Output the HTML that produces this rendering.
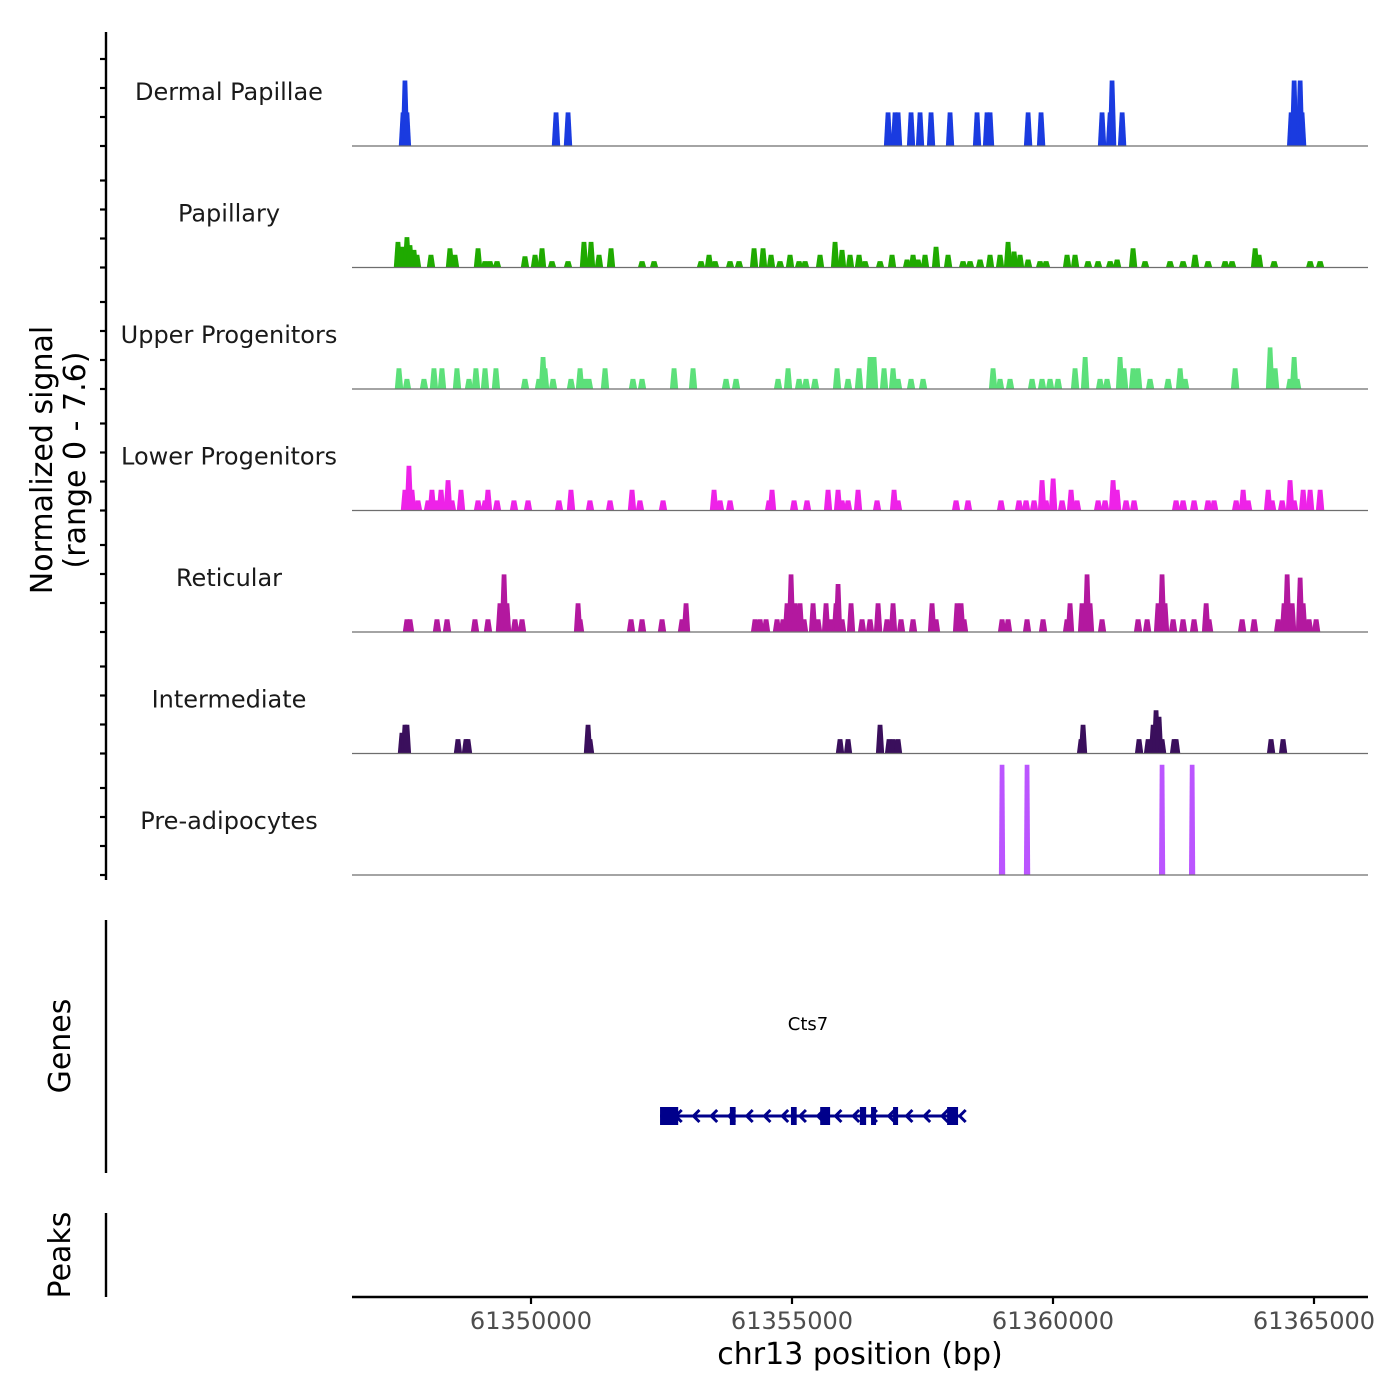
<!DOCTYPE html>
<html><head><meta charset="utf-8"><style>
body{margin:0;background:#fff}
svg{display:block;font-family:"DejaVu Sans","Liberation Sans",sans-serif}
</style></head><body>
<svg id="chart" width="1400" height="1400" viewBox="0 0 1400 1400">
<g id="tracks"></g>
<g id="axes"></g>
</svg>
<script>
// ---- data (genomic offsets in bp from 61350000, values in normalized signal) ----
const trackNames = ["Dermal Papillae","Papillary","Upper Progenitors","Lower Progenitors","Reticular","Intermediate","Pre-adipocytes"];
const trackColors = ["#1a3be0","#1faa00","#5ce07a","#ee22e8","#b3189f","#3a0f5c","#bb55ff"];
const dermalPos = [-2452,-2414,-2376,479,709,6840,6974,7032,7281,7453,7664,8028,8545,8737,8794,9523,9772,10940,11094,11132,11324,14562,14619,14734,14772];
const dermalVal = [2.1,4.1,2.1,2.1,2.1,2.1,2.1,2.1,2.1,2.1,2.1,2.1,2.1,2.1,2.1,2.1,2.1,2.1,2.1,4.1,2.1,2.1,4.1,4.1,2.1];
const papPos = [-2548,-2472,-2376,-2318,-2242,-2184,-1916,-1552,-1456,-1015,-881,-786,-651,-115,77,211,402,709,1015,1150,1303,1533,2127,2357,3257,3410,3525,3813,3985,4273,4445,4598,4771,4962,5135,5250,5537,5825,5959,6112,6284,6399,6687,6917,7204,7319,7415,7549,7760,7990,8277,8411,8603,8794,8986,9139,9254,9369,9523,9752,9867,10270,10423,10672,10864,11094,11228,11534,11764,12243,12492,12722,12971,13297,13431,13872,13948,14236,14926,15117];
const papVal = [1.6,1.3,1.9,1.4,1.1,0.8,0.8,1.2,0.8,1.2,0.4,0.4,0.4,0.7,0.8,1.2,0.4,0.4,1.6,1.6,0.8,1.2,0.4,0.4,0.4,0.8,0.4,0.4,0.4,1.2,1.2,0.8,0.4,0.8,0.4,0.4,0.8,1.6,1.1,0.8,0.8,0.4,0.4,0.8,0.5,0.8,0.5,0.8,1.3,0.8,0.4,0.4,0.5,0.8,0.8,1.6,1.0,0.8,0.5,0.4,0.4,0.8,0.8,0.4,0.4,0.4,0.5,1.2,0.4,0.4,0.4,0.8,0.4,0.4,0.4,1.2,0.8,0.4,0.4,0.4];
const upPos = [-2529,-2376,-2050,-1859,-1705,-1418,-1188,-1054,-881,-671,-115,153,230,268,422,766,939,1035,1111,1418,1954,2127,2740,3104,3736,3928,4733,4924,5135,5269,5441,5863,6074,6284,6495,6572,6763,6936,7032,7281,7511,8852,8986,9178,9599,9791,9944,10097,10423,10615,10902,11036,11285,11362,11534,11630,11860,12205,12435,12531,13489,14159,14255,14542,14619,14677];
const upVal = [1.3,0.63,0.63,1.3,1.3,1.3,0.63,1.3,1.3,1.3,0.63,0.63,2.0,1.3,0.63,0.63,1.3,0.63,0.63,1.3,0.63,0.63,1.3,1.3,0.63,0.63,0.63,1.3,0.63,0.63,0.63,1.3,0.63,1.3,2.0,2.0,1.3,1.3,0.63,0.63,0.63,1.3,0.63,0.63,0.63,0.63,0.63,0.63,1.3,2.0,0.63,0.63,2.0,1.3,1.3,1.3,0.63,0.63,1.3,0.63,1.3,2.6,1.3,0.63,2.0,0.63];
const lowPos = [-2414,-2338,-2280,-2165,-1973,-1897,-1820,-1724,-1590,-1514,-1341,-1015,-881,-824,-651,-326,-57,536,766,1130,1514,1935,2088,2529,3506,3621,3813,4560,4618,5039,5288,5691,5882,5959,6074,6265,6629,6955,7032,8143,8373,9005,9350,9484,9637,9791,9867,10002,10174,10346,10461,10864,10998,11151,11228,11400,11553,12358,12492,12703,12971,13086,13508,13642,13738,14121,14198,14389,14542,14619,14792,14926,15117];
const lowVal = [1.3,2.8,1.3,0.63,0.63,1.3,0.63,1.3,1.9,0.63,1.3,0.63,0.63,1.3,0.63,0.63,0.63,0.63,1.3,0.63,0.63,1.3,0.63,0.63,1.3,0.63,0.63,0.63,1.3,0.63,0.63,1.3,1.3,0.63,0.63,1.3,0.63,1.3,0.63,0.63,0.63,0.63,0.63,0.63,0.63,1.9,0.63,2.0,0.63,1.3,0.63,0.63,0.63,1.9,1.3,0.63,0.63,0.63,0.63,0.63,0.63,0.63,0.63,1.3,0.63,1.3,0.63,0.63,1.9,0.63,1.3,1.3,1.3];
const retPos = [-2376,-2318,-1801,-1609,-1073,-824,-594,-517,-460,-307,-172,901,939,1916,2127,2510,2893,2970,4292,4388,4503,4713,4828,4905,4982,5058,5154,5231,5403,5499,5652,5748,5844,5882,5959,6131,6342,6495,6649,6821,6936,7089,7319,7683,7760,8162,8239,8296,9024,9139,9503,9810,10270,10327,10557,10653,10710,10940,11630,11803,12013,12090,12147,12301,12492,12703,12933,12990,13623,13853,14313,14427,14485,14581,14734,14792,14906,15041];
const retVal = [0.8,0.8,0.8,0.8,0.8,0.8,1.8,3.6,1.8,0.8,0.8,1.8,0.8,0.8,0.8,0.8,0.8,1.8,0.8,0.8,0.8,0.8,0.8,1.8,3.6,1.8,1.8,0.8,1.8,0.8,1.8,0.8,1.8,3.0,0.8,1.8,0.8,0.8,1.8,0.8,1.8,0.8,0.8,1.8,0.8,1.8,1.8,0.8,0.8,0.8,0.8,0.8,0.8,1.8,1.8,3.6,1.8,0.8,0.8,0.8,1.8,3.6,1.8,0.8,0.8,0.8,1.8,0.8,0.8,0.8,0.8,1.8,3.6,1.8,3.4,1.8,0.8,0.8];
const intPos = [-2472,-2414,-2376,-1399,-1245,-1207,1092,1130,5920,6074,6687,6859,6936,7032,10538,10576,11649,11822,11918,11975,12032,12090,12320,12358,14178,14408];
const intVal = [1.3,1.8,1.8,0.9,0.9,0.9,1.8,0.9,0.9,0.9,1.8,0.9,0.9,0.9,0.9,1.8,0.9,0.9,1.8,2.7,2.3,0.9,0.9,0.9,0.9,0.9];
const prePos = [9024,9503,12090,12665];
const preVal = [6.9,6.9,6.9,6.9];
const xTicks = [61350000,61355000,61360000,61365000];
const geneSpan = [2472,8220];
const exonStarts = [2472,3810,4980,5540,6300,6514,6936,7971];
const exonEnds = [2820,3920,5090,5730,6420,6610,7032,8181];
const yMax = 7.6;

// ---- scales ----
const NS="http://www.w3.org/2000/svg";
const base = 61350000;
const X0=352, X1=1368;
function xs(off){ return 531 + off*261/5000; }
const trackH = 121.5;
function baseY(i){ return 146 + i*121.5; }
function ys(i,v){ return baseY(i) - v*(trackH/yMax); }
function mk(tag, attrs, parent){ const e=document.createElementNS(NS,tag); for(const k in attrs) e.setAttribute(k,attrs[k]); parent.appendChild(e); return e; }

const tracks=document.getElementById('tracks');
const axes=document.getElementById('axes');
const allPos=[dermalPos,papPos,upPos,lowPos,retPos,intPos,prePos];
const allVal=[dermalVal,papVal,upVal,lowVal,retVal,intVal,preVal];
const slugs=["dermal-papillae","papillary","upper-progenitors","lower-progenitors","reticular","intermediate","pre-adipocytes"];

for(let i=0;i<7;i++){
  const g=mk('g',{},tracks);
  
  
  const lab=mk('text',{x:229,y:baseY(i)-46,'text-anchor':'middle','font-size':24,fill:'#1a1a1a'},g);
  lab.textContent=trackNames[i];
  
  
  const P=allPos[i], V=allVal[i];
  for(let j=0;j<P.length;j++){
    const b=baseY(i), t=ys(i,V[j]);
    const hw = i===6 ? 60 : 80, tw = 45;
    const pts=[[xs(P[j]-hw),b],[xs(P[j]-tw),t],[xs(P[j]+tw),t],[xs(P[j]+hw),b]].map(p=>p[0].toFixed(1)+','+p[1].toFixed(1)).join(' ');
    const pk=mk('polygon',{points:pts,fill:trackColors[i]},g);
    
    
  }
  const bl=mk('line',{x1:X0,x2:X1,y1:baseY(i),y2:baseY(i),stroke:'#6e6e6e','stroke-width':1.2},g);
  
  
}

// left signal axis
const ya=mk('line',{x1:106,x2:106,y1:32,y2:880,stroke:'#000','stroke-width':2.4},axes);


for(let i=0;i<7;i++){
  for(let k=0;k<4;k++){
    const y=baseY(i)-k*29;
    const tk=mk('line',{x1:100,x2:106,y1:y,y2:y,stroke:'#000','stroke-width':2.2},axes);
    
    
  }
}
const yt=mk('text',{transform:'translate(52,460) rotate(-90)','text-anchor':'middle','font-size':30,fill:'#000'},axes);
yt.textContent='Normalized signal';


const yt2=mk('text',{transform:'translate(85,460) rotate(-90)','text-anchor':'middle','font-size':30,fill:'#000'},axes);
yt2.textContent='(range 0 - 7.6)';



// genes panel
const ga=mk('line',{x1:106,x2:106,y1:920,y2:1173,stroke:'#000','stroke-width':2.4},axes);


const gt=mk('text',{transform:'translate(70,1046) rotate(-90)','text-anchor':'middle','font-size':30,fill:'#000'},axes);
gt.textContent='Genes';


const gene=mk('g',{},tracks);


mk('line',{x1:xs(geneSpan[0]),x2:xs(geneSpan[1]),y1:1116,y2:1116,stroke:'#00008b','stroke-width':3},gene);
for(let a=geneSpan[0]+300;a<geneSpan[1];a+=340){
  const x=xs(a);
  mk('polyline',{points:`${x+6},1110 ${x},1116 ${x+6},1122`,fill:'none',stroke:'#00008b','stroke-width':3},gene);
}
for(let j=0;j<exonStarts.length;j++){
  const x1=xs(exonStarts[j]), x2=xs(exonEnds[j]);
  const ex=mk('rect',{x:x1,y:1107,width:Math.max(x2-x1,5),height:18,fill:'#00008b'},gene);
  
  
}
const gl=mk('text',{x:808,y:1030,'text-anchor':'middle','font-size':18,fill:'#000'},gene);
gl.textContent='Cts7';



// peaks panel
const pa=mk('line',{x1:106,x2:106,y1:1213,y2:1297,stroke:'#000','stroke-width':2.4},axes);


const pt=mk('text',{transform:'translate(70,1255) rotate(-90)','text-anchor':'middle','font-size':30,fill:'#000'},axes);
pt.textContent='Peaks';



// x axis
const xa=mk('line',{x1:X0,x2:X1,y1:1297,y2:1297,stroke:'#000','stroke-width':2.4},axes);


for(const t of xTicks){
  const x=xs(t-base);
  const tk=mk('line',{x1:x,x2:x,y1:1297,y2:1304,stroke:'#000','stroke-width':2.2},axes);
  
  
  const tl=mk('text',{x:x,y:1329,'text-anchor':'middle','font-size':24,fill:'#4d4d4d'},axes);
  tl.textContent=String(t);
  
  
}
const xt=mk('text',{x:860,y:1364,'text-anchor':'middle','font-size':30,fill:'#000'},axes);
xt.textContent='chr13 position (bp)';


</script>
</body></html>
